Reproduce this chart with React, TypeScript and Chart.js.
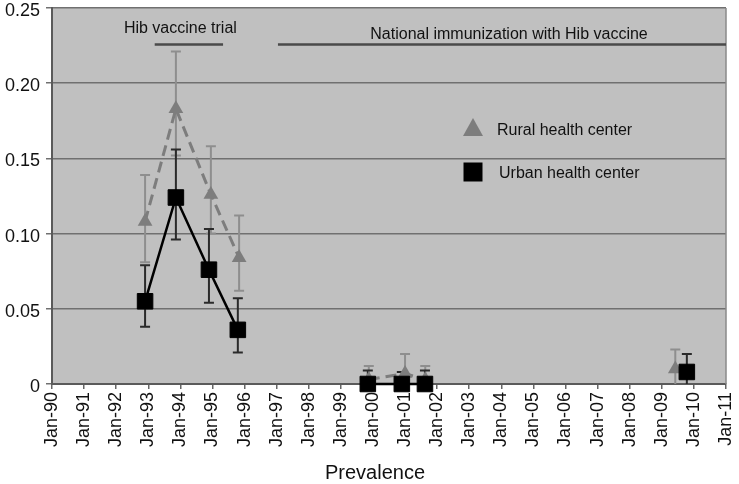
import React, { useEffect, useRef } from 'react';
import { Chart, registerables } from 'chart.js';

Chart.register(...registerables);

const xTickLabels = ['Jan-90','Jan-91','Jan-92','Jan-93','Jan-94','Jan-95','Jan-96','Jan-97','Jan-98','Jan-99','Jan-00','Jan-01','Jan-02','Jan-03','Jan-04','Jan-05','Jan-06','Jan-07','Jan-08','Jan-09','Jan-10','Jan-11'];
const yTickLabels = ['0', '0.05', '0.10', '0.15', '0.20', '0.25'];

const ruralDates = [1992.90, 1993.86, 1994.95, 1995.83, 1999.87, 2001.00, 2001.63, 2009.42];
const ruralValues = [0.108, 0.183, 0.126, 0.084, 0.003, 0.007, 0.003, 0.010];
const ruralLower = [0.081, 0.152, 0.100, 0.062, 0.000, 0.000, 0.000, 0.000];
const ruralUpper = [0.139, 0.221, 0.158, 0.112, 0.012, 0.020, 0.012, 0.023];

const urbanDates = [1992.90, 1993.86, 1994.89, 1995.79, 1999.84, 2000.90, 2001.62, 2009.78];
const urbanValues = [0.055, 0.124, 0.076, 0.036, 0.000, 0.000, 0.000, 0.008];
const urbanLower = [0.038, 0.096, 0.054, 0.021, 0.000, 0.000, 0.000, 0.000];
const urbanUpper = [0.079, 0.156, 0.103, 0.057, 0.009, 0.008, 0.009, 0.020];

const trialLabel = 'Hib vaccine trial';
const trialPeriod = [1993.2, 1995.33];
const nationalLabel = 'National immunization with Hib vaccine';
const nationalPeriod = [1997.04, 2011];
const ruralLabel = 'Rural health center';
const urbanLabel = 'Urban health center';
const xTitle = 'Prevalence';

const FONT = "'Liberation Sans', Arial, sans-serif";
const SHIFT = 4;

function buildPoints(dates: number[], values: number[]) {
  const pts: { x: number; y: number | null }[] = [];
  for (let i = 0; i < dates.length; i++) {
    if (i > 0 && dates[i] - dates[i - 1] > 2) {
      pts.push({ x: (dates[i] + dates[i - 1]) / 2, y: null });
    }
    pts.push({ x: dates[i], y: values[i] });
  }
  return pts;
}

const decorPlugin = {
  id: 'decor',
  beforeDraw(chart: any) {
    const { ctx, chartArea: a } = chart;
    ctx.save();
    ctx.fillStyle = '#c0c0c0';
    ctx.fillRect(a.left, a.top, a.right - a.left, a.bottom - a.top);
    ctx.restore();
  },
  beforeDatasetsDraw(chart: any) {
    const { ctx, chartArea: a } = chart;
    const xs = chart.scales.x;
    const ys = chart.scales.y;
    const drawBars = (dates: number[], lo: number[], hi: number[], color: string) => {
      ctx.save();
      ctx.strokeStyle = color;
      ctx.lineWidth = 2;
      for (let i = 0; i < dates.length; i++) {
        const x = xs.getPixelForValue(dates[i]);
        const yl = Math.min(ys.getPixelForValue(lo[i]), a.bottom);
        const yh = ys.getPixelForValue(hi[i]);
        ctx.beginPath();
        ctx.moveTo(x, yl);
        ctx.lineTo(x, yh);
        ctx.moveTo(x - 5, yh);
        ctx.lineTo(x + 5, yh);
        if (lo[i] > 0) {
          ctx.moveTo(x - 5, yl);
          ctx.lineTo(x + 5, yl);
        }
        ctx.stroke();
      }
      ctx.restore();
    };
    drawBars(ruralDates, ruralLower, ruralUpper, '#8e8e8e');
    drawBars(urbanDates, urbanLower, urbanUpper, '#2a2a2a');
  },
  afterDraw(chart: any) {
    const { ctx, chartArea: a } = chart;
    const xs = chart.scales.x;
    const ys = chart.scales.y;
    ctx.save();
    ctx.strokeStyle = '#8a8a8a';
    ctx.lineWidth = 1.5;
    ctx.beginPath();
    ctx.moveTo(a.right, a.top);
    ctx.lineTo(a.right, a.bottom);
    ctx.stroke();

    const lineY = ys.getPixelForValue(0.2257);
    ctx.strokeStyle = '#4a4a4a';
    ctx.lineWidth = 2.5;
    ctx.beginPath();
    ctx.moveTo(xs.getPixelForValue(trialPeriod[0]), lineY);
    ctx.lineTo(xs.getPixelForValue(trialPeriod[1]), lineY);
    ctx.moveTo(xs.getPixelForValue(nationalPeriod[0]), lineY);
    ctx.lineTo(xs.getPixelForValue(nationalPeriod[1]), lineY);
    ctx.stroke();

    ctx.fillStyle = '#111';
    ctx.font = `16px ${FONT}`;
    ctx.textAlign = 'center';
    ctx.textBaseline = 'middle';
    ctx.fillText(trialLabel, xs.getPixelForValue(1994.0), ys.getPixelForValue(0.236));
    ctx.fillText(nationalLabel, xs.getPixelForValue(2004.24), ys.getPixelForValue(0.2325));

    const lx = a.left + 421;
    const ty = a.top + 120;
    ctx.fillStyle = '#7d7d7d';
    ctx.beginPath();
    ctx.moveTo(lx, ty - 10);
    ctx.lineTo(lx + 10, ty + 8);
    ctx.lineTo(lx - 10, ty + 8);
    ctx.closePath();
    ctx.fill();
    const sy = a.top + 164;
    ctx.fillStyle = '#000';
    ctx.fillRect(lx - 9.5, sy - 9.5, 19, 19);
    ctx.fillStyle = '#111';
    ctx.textAlign = 'left';
    ctx.fillText(ruralLabel, lx + 24, ty + 3);
    ctx.fillText(urbanLabel, lx + 26, sy + 2);

    ctx.font = `20px ${FONT}`;
    ctx.textAlign = 'center';
    ctx.fillText(xTitle, 375, 473 + SHIFT);
    ctx.restore();
  },
};

export default function App() {
  const ref = useRef<HTMLCanvasElement | null>(null);
  useEffect(() => {
    if (!ref.current) return;
    const chart = new Chart(ref.current, {
      type: 'line',
      data: {
        datasets: [
          {
            label: ruralLabel,
            data: buildPoints(ruralDates, ruralValues),
            borderColor: '#7d7d7d',
            borderWidth: 3,
            borderDash: [11, 6],
            backgroundColor: '#7d7d7d',
            pointStyle: 'triangle',
            pointRadius: 8.5,
            pointBorderWidth: 0,
            pointBackgroundColor: '#7d7d7d',
            spanGaps: false,
            clip: false as any,
            order: 2,
          },
          {
            label: urbanLabel,
            data: buildPoints(urbanDates, urbanValues),
            borderColor: '#000',
            borderWidth: 2.5,
            backgroundColor: '#000',
            pointStyle: 'rect',
            pointRadius: 11,
            pointBorderWidth: 1,
            pointBorderColor: '#000',
            pointBackgroundColor: '#000',
            spanGaps: false,
            clip: false as any,
            order: 1,
          },
        ],
      },
      options: {
        animation: false,
        responsive: false,
        devicePixelRatio: 1,
        layout: { padding: { top: 3, right: 13, left: 0, bottom: 0 } },
        plugins: {
          legend: { display: false },
          tooltip: { enabled: false },
        },
        scales: {
          x: {
            type: 'linear',
            min: 1990,
            max: 2011,
            afterFit: (s: any) => { s.height = 100; s.paddingLeft = 0; s.paddingRight = 0; },
            ticks: {
              stepSize: 1,
              autoSkip: false,
              minRotation: 90,
              maxRotation: 90,
              padding: 3,
              color: '#111',
              font: { family: FONT, size: 18 },
              callback: (v: any) => xTickLabels[Math.round(Number(v) - 1990)] ?? '',
            },
            grid: { drawOnChartArea: false, drawTicks: true, tickLength: 5, color: '#666', lineWidth: 1.5 },
            border: { color: '#5a5a5a', width: 2 },
          },
          y: {
            type: 'linear',
            min: 0,
            max: 0.25,
            afterFit: (s: any) => { s.width = 52; s.paddingTop = 0; s.paddingBottom = 0; },
            ticks: {
              stepSize: 0.05,
              padding: 6,
              labelOffset: 3,
              color: '#111',
              font: { family: FONT, size: 18 },
              callback: (_v: any, i: number) => yTickLabels[i] ?? '',
            },
            grid: { color: '#707070', lineWidth: 1.5, tickLength: 6, drawTicks: true },
            border: { color: '#5a5a5a', width: 2 },
          },
        },
      },
      plugins: [decorPlugin],
    });
    return () => chart.destroy();
  }, []);
  return (
    <div style={{ position: 'fixed', left: 0, top: -SHIFT, width: 739, height: 484 + SHIFT, background: '#fff' }}>
      <canvas ref={ref} width={739} height={484 + SHIFT} style={{ display: 'block' }} />
    </div>
  );
}
